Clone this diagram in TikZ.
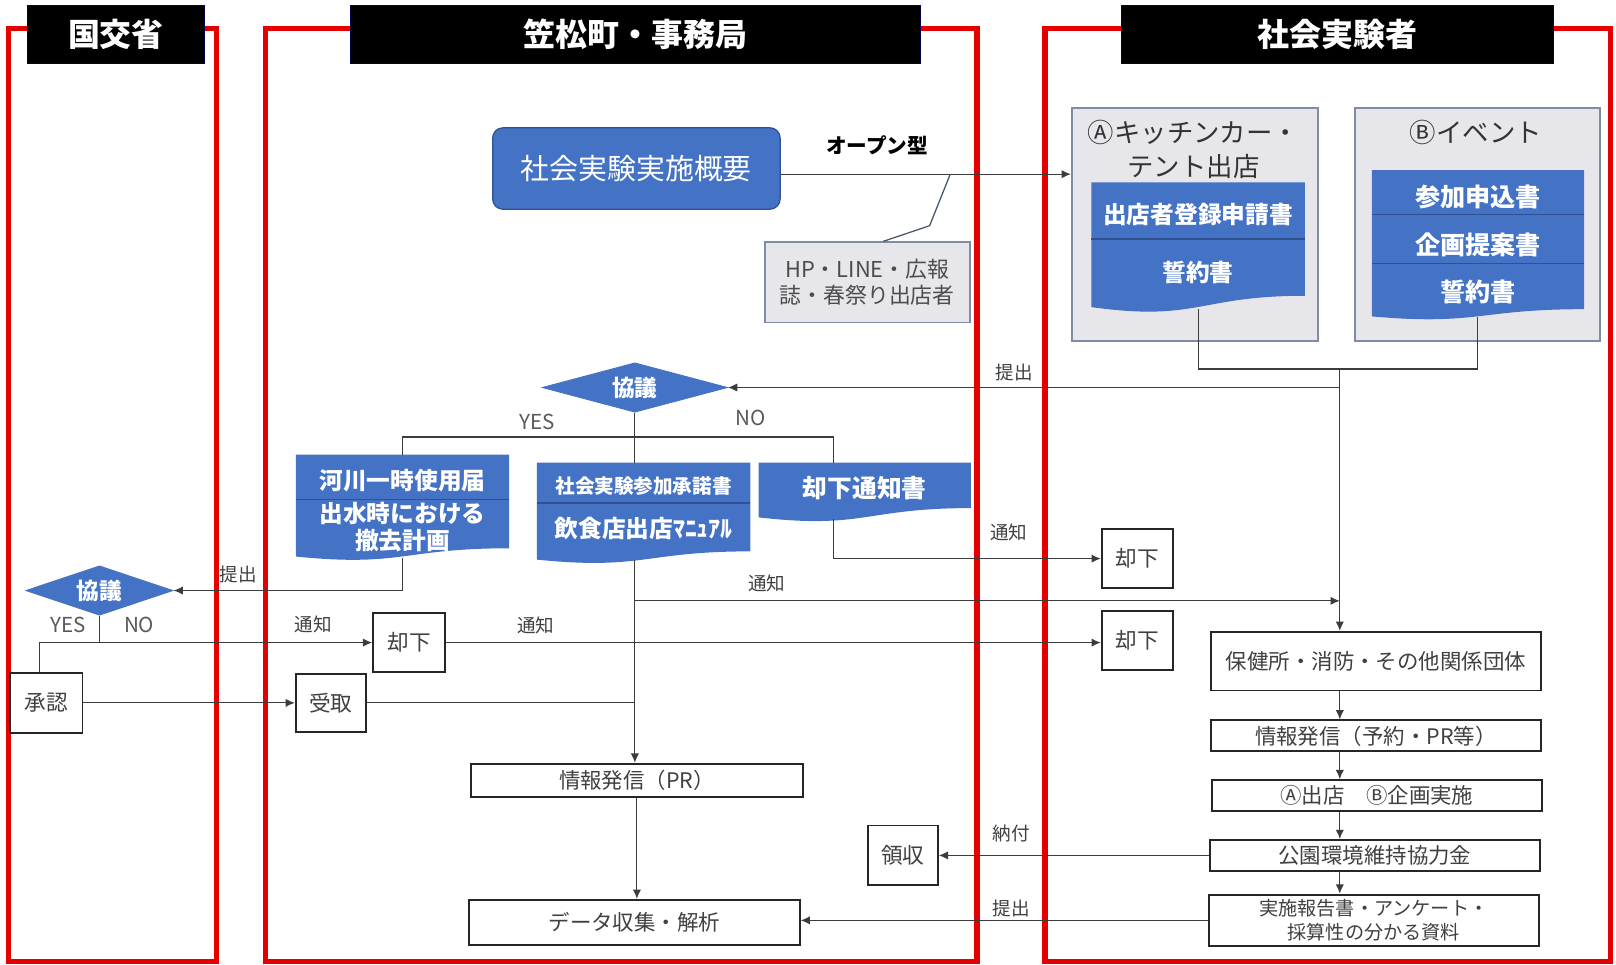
\documentclass[tikz,border=0pt]{standalone}
\usepackage{fontspec}
\setmainfont{Noto Sans CJK JP}
\usetikzlibrary{shapes.geometric,arrows.meta}
\definecolor{lanered}{HTML}{E50000}
\definecolor{oblue}{HTML}{4472C4}
\definecolor{oblued}{HTML}{2F528F}
\definecolor{gbox}{HTML}{E7E7EB}
\definecolor{gboxb}{HTML}{7F8CA3}
\definecolor{txt}{HTML}{404040}
\definecolor{ln}{HTML}{3C3C3C}
\definecolor{calc}{HTML}{44546A}
\newcommand\docshape[5]{%
  \pgfmathsetmacro\dsm{(#1+#3)/2}%
  \pgfmathsetmacro\dsc{#5+2.3*(#4-#5)}%
  \fill[oblue] (#1,#2) -- (#3,#2) -- (#3,#5) .. controls (\dsm,#5) and (\dsm,\dsc) .. (#1,#4) -- cycle;%
}
\tikzset{
  lane/.style={draw=lanered, line width=2.5pt},
  hdr/.style={fill=black, draw=black!70!blue, line width=0.5pt, text=white,
    font=\bfseries\fontsize{15.5}{18}\selectfont, inner sep=0pt, minimum height=28.5pt},
  pbox/.style={draw=black!85, line width=0.9pt, fill=white, text=txt, inner sep=0pt,
    align=center, font=\fontsize{10.4}{12.5}\selectfont},
  sbox/.style={pbox, minimum width=34.5pt, minimum height=28.5pt, font=\fontsize{10.5}{12}\selectfont},
  gbx/.style={draw=gboxb, fill=gbox, line width=1pt, inner sep=0pt, minimum height=113pt},
  gtitle/.style={text=black!80, font=\fontsize{12.8}{16.5}\selectfont, align=center, inner sep=0pt},
  dtext/.style={text=white, font=\bfseries\fontsize{11.5}{13}\selectfont, inner sep=0pt},
  docbox/.style={inner sep=0pt, outer sep=0pt, minimum width=103.5pt},
  divl/.style={draw=oblued, line width=0.6pt},
  dec/.style={diamond, aspect=3.75, fill=oblue, draw=oblue, text=white, font=\bfseries\fontsize{11}{13}\selectfont,
    inner sep=0pt, minimum width=90pt, minimum height=24pt},
  lbl/.style={text=txt, font=\fontsize{9}{10}\selectfont, inner sep=0pt},
  yn/.style={text=black!65, font=\fontsize{10}{11}\selectfont, inner sep=0pt},
  conn/.style={draw=ln, line width=0.55pt},
  arr/.style={conn, -{Latex[length=4.5pt,width=4pt]}},
  callout/.style={draw=calc, line width=0.6pt}
}
\begin{document}
\begin{tikzpicture}[x=0.5pt,y=-0.5pt]
\useasboundingbox (0,0) rectangle (1568,936);
\fill[white] (0,0) rectangle (1568,936);
% lanes
\draw[lane] (8,28) rectangle (210,933);
\draw[lane] (258,28) rectangle (948,933);
\draw[lane] (1014,28) rectangle (1563,933);
\node[hdr, minimum width=85.5pt] (h1) at (112.5,33.5) {国交省};
\node[hdr, minimum width=276.5pt] (h2) at (616.5,33.5) {笠松町・事務局};
\node[hdr, minimum width=209.5pt] (h3) at (1297.5,33.5) {社会実験者};
% summary
\node[fill=oblue, draw=oblued, line width=0.6pt, rounded corners=5pt, minimum width=139.5pt,
  minimum height=39.5pt, inner sep=0pt, text=white, font=\fontsize{14}{16}\selectfont] (ov) at (617.5,163.5) {社会実験実施概要};
\node[font=\bfseries\fontsize{10}{12}\selectfont, inner sep=0pt] (open) at (851,141) {オープン型};
\node[fill=gbox, draw=gboxb, line width=0.8pt, minimum width=99.5pt, minimum height=39pt, inner sep=0pt,
  align=center, text=black!70, font=\fontsize{10.6}{12.5}\selectfont] (hp) at (841.5,274) {HP・LINE・広報\\誌・春祭り出店者};
% applicant boxes
\node[gbx, minimum width=119.5pt] (boxA) at (1159.5,218) {};
\node[gbx, minimum width=118.5pt] (boxB) at (1433.5,218) {};
\node[gtitle] (tA) at (1158,145) {Ⓐキッチンカー・\\テント出店};
\node[gtitle] (tB) at (1432,129) {Ⓑイベント};
% document shapes
\docshape{1059}{177}{1266}{298}{287}
\docshape{1331}{165}{1537}{307}{300}
\docshape{287}{441}{494}{540}{532}
\docshape{521}{449}{728}{543}{535}
\docshape{736}{449}{942}{502}{493}
\draw[divl] (1059,232) -- (1266,232);
\draw[divl] (1331,208) -- (1537,208);
\draw[divl] (1331,256) -- (1537,256);
\draw[divl] (287,485) -- (494,485);
\draw[divl] (521,488) -- (728,488);
\node[docbox, minimum height=61.5pt] (docA) at (1162.5,238.5) {};
\node[docbox, minimum width=103pt, minimum height=71.5pt] (docB) at (1434,236.5) {};
\node[docbox, minimum height=50pt] (kasen) at (390.5,491) {};
\node[docbox, minimum height=47pt] (shodaku) at (624.5,496) {};
\node[docbox, minimum width=103pt, minimum height=27.5pt] (kyakkadoc) at (839,476.5) {};
\node[dtext] (a1) at (1162.5,208) {出店者登録申請書};
\node[dtext] (a2) at (1162.5,264) {誓約書};
\node[dtext, font=\bfseries\fontsize{12.2}{14}\selectfont] (b1) at (1434,191) {参加申込書};
\node[dtext, font=\bfseries\fontsize{12.2}{14}\selectfont] (b2) at (1434,238) {企画提案書};
\node[dtext, font=\bfseries\fontsize{12.2}{14}\selectfont] (b3) at (1434,283) {誓約書};
\node[dtext] (c1) at (390.5,466) {河川一時使用届};
\node[dtext] (c2) at (390.5,498) {出水時における};
\node[dtext] (c3) at (390.5,525) {撤去計画};
\node[dtext, font=\bfseries\fontsize{9.5}{11}\selectfont] (d1) at (624.5,472) {社会実験参加承諾書};
\node[dtext] (d2) at (624.5,513) {飲食店出店ﾏﾆｭｱﾙ};
\node[dtext, font=\bfseries\fontsize{12}{14}\selectfont] (e1) at (839,474) {却下通知書};
% decisions
\node[dec] (k1) at (616,376) {協議};
\node[dec, aspect=3, minimum width=71.5pt] (k2) at (96.5,573) {協議};
% plain boxes
\node[sbox] (kyakkaA) at (1103.5,542) {却下};
\node[sbox] (kyakkaB) at (1103.5,621.5) {却下};
\node[sbox, minimum width=35pt] (kyakkaM) at (397,623.5) {却下};
\node[sbox, minimum width=35pt, minimum height=29pt] (shonin) at (45,682) {承認};
\node[sbox, minimum width=34pt, minimum height=28pt] (uketori) at (321,682) {受取};
\node[sbox, minimum width=34pt, minimum height=29pt] (ryoshu) at (876,830) {領収};
\node[pbox, minimum width=161pt, minimum height=16pt] (pr) at (618,757) {情報発信（PR）};
\node[pbox, minimum width=160.5pt, minimum height=22pt] (data) at (615.5,895) {データ収集・解析};
\node[pbox, minimum width=160pt, minimum height=28.5pt] (hoken) at (1335,641.5) {保健所・消防・その他関係団体};
\node[pbox, minimum width=160pt, minimum height=15pt] (jh2) at (1335,714) {情報発信（予約・PR等）};
\node[pbox, minimum width=160pt, minimum height=15pt] (jisshi) at (1336,772) {Ⓐ出店　Ⓑ企画実施};
\node[pbox, minimum width=160pt, minimum height=15pt] (koen) at (1334,830) {公園環境維持協力金};
\node[pbox, minimum width=160pt, minimum height=25pt, font=\fontsize{9.3}{11.5}\selectfont] (houkoku) at (1333,893) {実施報告書・アンケート・\\採算性の分かる資料};
% labels
\node[lbl] (l1) at (984,361) {提出};
\node[lbl] (l2) at (979,517) {通知};
\node[lbl] (l3) at (231,557) {提出};
\node[lbl] (l4) at (304,606) {通知};
\node[lbl] (l5) at (520,607) {通知};
\node[lbl] (l6) at (744,566) {通知};
\node[lbl] (l7) at (981,809) {納付};
\node[lbl] (l8) at (981,881) {提出};
\node[yn] (y1) at (521,409) {YES};
\node[yn] (n1) at (728,406) {NO};
\node[yn] (y2) at (66,606) {YES};
\node[yn] (n2) at (135,606) {NO};
% helper coordinates
\coordinate (jn) at (1300,358);
\coordinate (br) at (616,424);
\coordinate (xk) at (809,0);
\coordinate (xs) at (38,0);
\coordinate (xm) at (616,0);
\coordinate (t1) at (616,583);
\coordinate (cp) at (922,169);
% connectors
\draw[arr] ([yshift=-2.75pt]ov.east) -- ([yshift=-2.75pt]ov.east -| boxA.west);
\draw[callout] ([xshift=7.75pt]hp.north) -- (902,219) -- (cp);
\draw[conn] (docA.south) |- (jn) -| (docB.south);
\draw[arr] (jn) -- (jn |- hoken.north);
\draw[arr] (jn |- k1.east) -- (k1.east);
\draw[conn] (k1.south) -- (br);
\draw[conn] (kasen.north) |- (br) -| (xk |- kyakkadoc.north);
\draw[conn] (br) -- (br |- shodaku.north);
\draw[arr] (xk |- kyakkadoc.south) |- (kyakkaA.west);
\draw[arr] (kasen.south) |- (k2.east);
\draw[conn] (k2.south) -- (k2.south |- kyakkaM.west);
\draw[arr] (xs |- shonin.north) |- (kyakkaM.west);
\draw[arr] (kyakkaM.east) -- (kyakkaM.east -| kyakkaB.west);
\draw[arr] (shonin.east) -- (uketori.west);
\draw[conn] (uketori.east) -- (uketori.east -| xm);
\draw[arr] (xm |- shodaku.south) -- (xm |- pr.north);
\draw[arr] (t1) -- (t1 -| jn);
\draw[arr] (pr.south) -- (pr.south |- data.north);
\draw[arr] (jn |- hoken.south) -- (jn |- jh2.north);
\draw[arr] (jn |- jh2.south) -- (jn |- jisshi.north);
\draw[arr] (jn |- jisshi.south) -- (jn |- koen.north);
\draw[arr] (jn |- koen.south) -- (jn |- houkoku.north);
\draw[arr] (koen.west) -- (ryoshu.east);
\draw[arr] (houkoku.west) -- (houkoku.west -| data.east);
\end{tikzpicture}
\end{document}
